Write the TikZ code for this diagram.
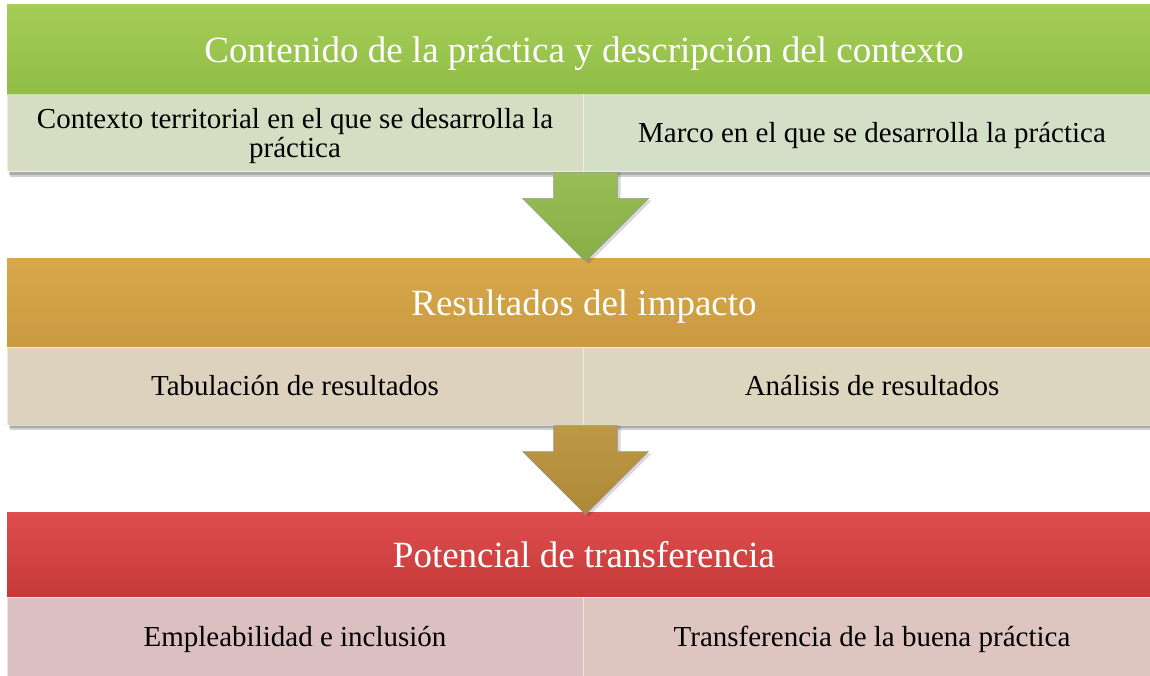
\documentclass[tikz,border=0pt]{standalone}
\usepackage{fontspec}
\setmainfont{Liberation Serif}
\usetikzlibrary{calc}
\definecolor{gTop}{HTML}{A4CD58}
\definecolor{gBot}{HTML}{90BD46}
\definecolor{gSubL}{HTML}{D7DDC3}
\definecolor{gSubR}{HTML}{D4DFC8}
\definecolor{gArr}{HTML}{86AE45}
\definecolor{gArrL}{HTML}{98BF56}
\definecolor{oTop}{HTML}{D8A84A}
\definecolor{oBot}{HTML}{C99A40}
\definecolor{oSubL}{HTML}{DDD2BD}
\definecolor{oSubR}{HTML}{DDD6BF}
\definecolor{oArr}{HTML}{AD8937}
\definecolor{oArrL}{HTML}{BD9846}
\definecolor{rTop}{HTML}{DE4D4D}
\definecolor{rBot}{HTML}{C63A3A}
\definecolor{rSubL}{HTML}{DCBFC1}
\definecolor{rSubR}{HTML}{DEC5BF}
\tikzset{
  header/.style={rectangle, inner sep=0pt, minimum width=1154pt, text=white,
    text height=31pt, text depth=6pt, font=\fontsize{37}{42}\selectfont},
  subbox/.style={rectangle, inner sep=0pt, draw=white, draw opacity=0.55,
    line width=1pt, font=\fontsize{29}{30}\selectfont},
  oneline/.style={text height=25pt, text depth=6pt},
  sectshadow/.style={fill=black, opacity=0.18},
  blockarrow/.style={draw=black!40, line width=0.5pt, line join=miter}
}
\begin{document}
\begin{tikzpicture}[x=1pt,y=-1pt]
\useasboundingbox (0,0) rectangle (1150,676);
\clip (0,0) rectangle (1150,676);
% shadows
\fill[sectshadow] (10,9) rectangle (1165,177);
\fill[sectshadow] (9,8) rectangle (1163,175);
\fill[sectshadow] (10,262) rectangle (1165,430);
\fill[sectshadow] (9,261) rectangle (1163,428);
\fill[sectshadow] (10,516) rectangle (1165,680);
\fill[sectshadow] (9,515) rectangle (1163,680);
% section 1
\node[header, minimum height=90pt, top color=gTop, bottom color=gBot] (h1) at (584,50)
  {Contenido de la práctica y descripción del contexto};
\node[subbox, text height=28pt, text depth=38pt, minimum width=576pt, minimum height=77pt, fill=gSubL] (s1l) at (295,133.5)
  {\begin{tabular}[t]{@{}c@{}}Contexto territorial en el que se desarrolla la\\[-1pt]práctica\end{tabular}};
\node[subbox, oneline, minimum width=578pt, minimum height=77pt, fill=gSubR] (s1r) at (872,133.5)
  {Marco en el que se desarrolla la práctica};
% section 2
\node[header, minimum height=89pt, top color=oTop, bottom color=oBot] (h2) at (584,302.5)
  {Resultados del impacto};
\node[subbox, oneline, minimum width=576pt, minimum height=78pt, fill=oSubL] (s2l) at (295,386)
  {Tabulación de resultados};
\node[subbox, oneline, minimum width=578pt, minimum height=78pt, fill=oSubR] (s2r) at (872,386)
  {Análisis de resultados};
% section 3
\node[header, minimum height=85pt, top color=rTop, bottom color=rBot] (h3) at (584,554.5)
  {Potencial de transferencia};
\node[subbox, oneline, minimum width=576pt, minimum height=79pt, fill=rSubL] (s3l) at (295,636.5)
  {Empleabilidad e inclusión};
\node[subbox, oneline, minimum width=578pt, minimum height=79pt, fill=rSubR] (s3r) at (872,636.5)
  {Transferencia de la buena práctica};
% arrows
\coordinate (a1) at ($(s1l.south east)+(2,0)$);
\coordinate (a2) at ($(s2l.south east)+(2,0)$);
\fill[black, opacity=0.15] ($(a1)+(-29,0)$) -- ++(64,0) -- ++(0,28) -- ++(31,0)
  -- ($(a1)+(3,91)$) -- ($(a1)+(-60,28)$) -- ++(31,0) -- cycle;
\path[blockarrow, top color=gArrL, bottom color=gArr]
  ($(a1)+(-32,0)$) -- ++(64,0) -- ++(0,26) -- ++(31,0)
  -- ($(a1)+(0,89)$) -- ($(a1)+(-63,26)$) -- ++(31,0) -- cycle;
\fill[black, opacity=0.15] ($(a2)+(-29,0)$) -- ++(64,0) -- ++(0,28) -- ++(31,0)
  -- ($(a2)+(3,91)$) -- ($(a2)+(-60,28)$) -- ++(31,0) -- cycle;
\path[blockarrow, top color=oArrL, bottom color=oArr]
  ($(a2)+(-32,0)$) -- ++(64,0) -- ++(0,26) -- ++(31,0)
  -- ($(a2)+(0,89)$) -- ($(a2)+(-63,26)$) -- ++(31,0) -- cycle;
\end{tikzpicture}
\end{document}
